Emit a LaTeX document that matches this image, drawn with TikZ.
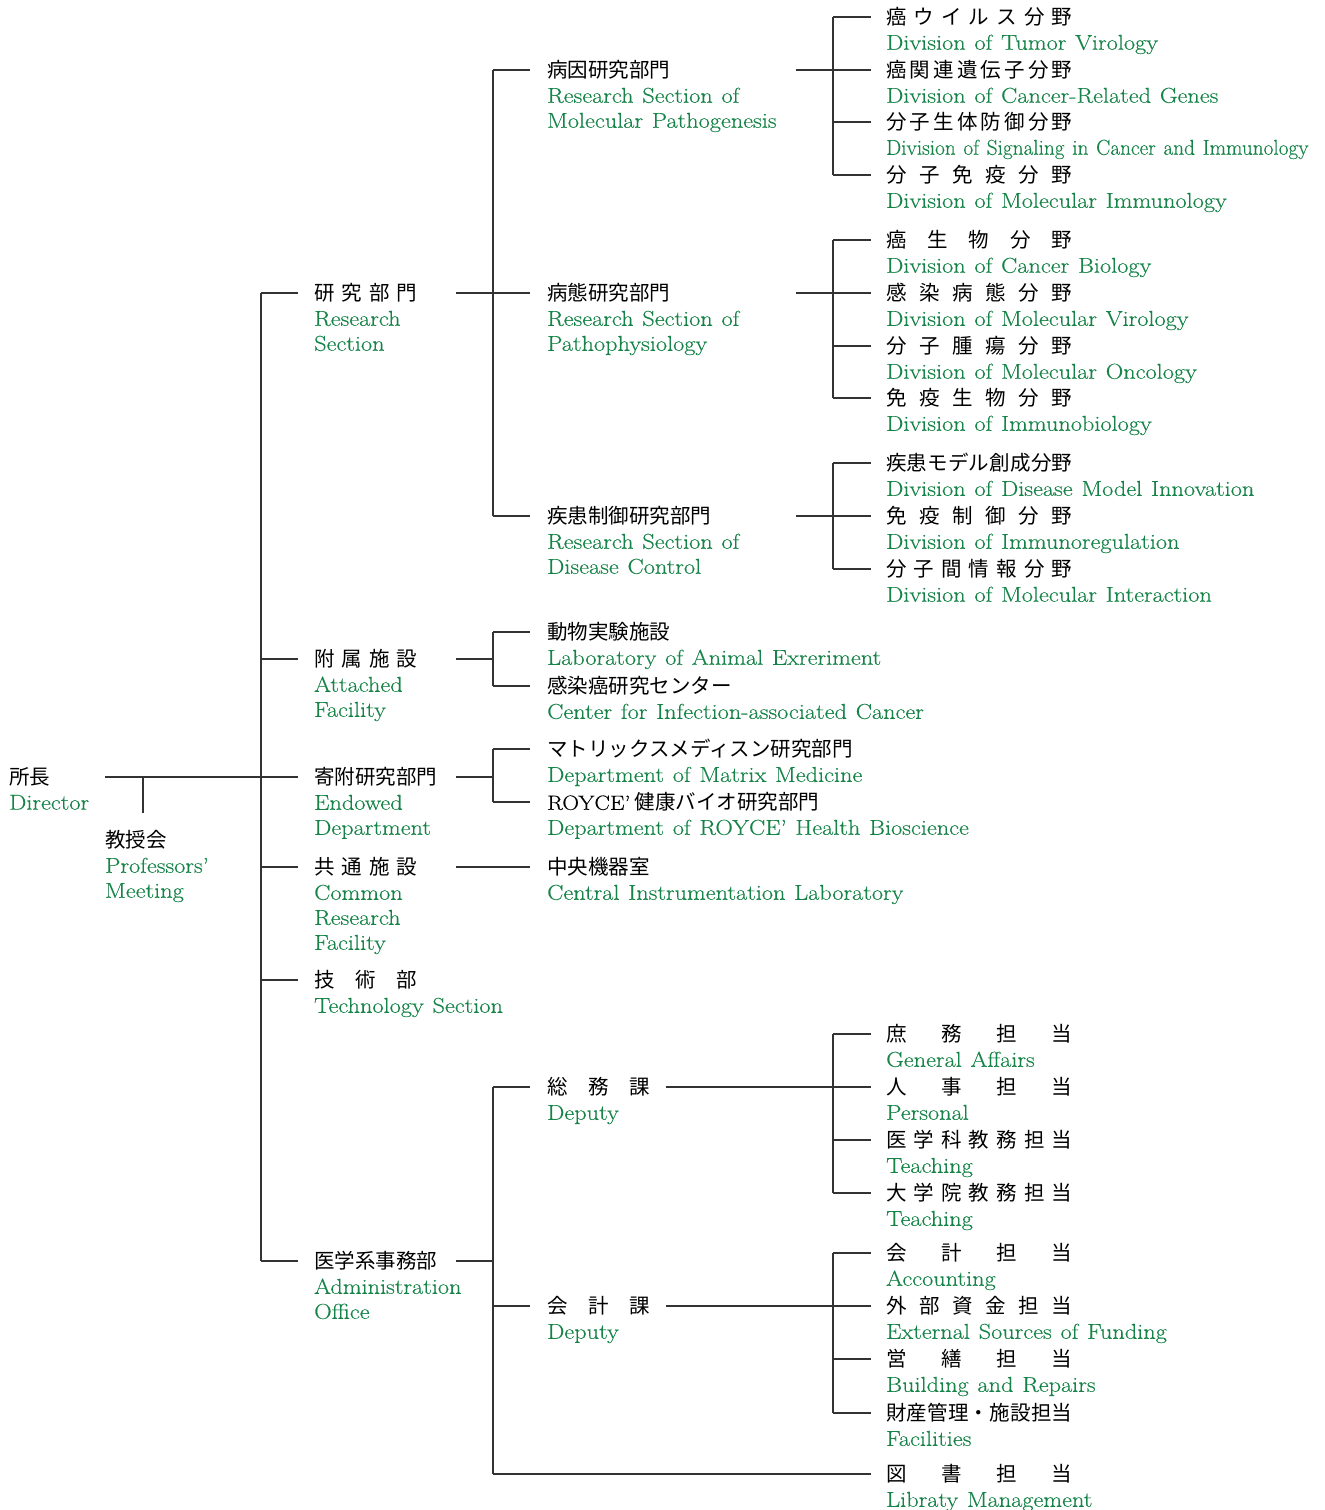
\documentclass[tikz,border=0pt]{standalone}
\usepackage{graphicx}
\usepackage{fontspec}
\setmainfont{Latin Modern Roman}
\newfontfamily\enfont{Latin Modern Roman}[FakeStretch=1.13,WordSpace=1.2,FakeBold=0.3]
\newfontfamily\jpfont{Noto Sans CJK JP}
\definecolor{orggreen}{RGB}{22,132,72}
\newcommand{\jshort}[1]{\makebox[103pt]{#1}}
\newcommand{\jlong}[1]{\makebox[186pt]{#1}}
\newcommand{\enstack}[1]{\begin{tabular}[t]{@{}l@{}}#1\end{tabular}}

\begin{document}
\begin{tikzpicture}[x=1pt,y=-1pt,
  jp/.style={anchor=west,inner sep=0pt,font=\fontsize{20.5}{25}\selectfont\jpfont},
  en/.style={anchor=base west,inner sep=0pt,text=orggreen,font=\fontsize{21.5}{25}\selectfont\enfont},
  ln/.style={line width=1.1pt,draw=black!80}]
\useasboundingbox (0,0) rectangle (1325,1510);

% director and professors' meeting
\node[jp] (dir) at (9,777) {所長};
\node[en] (dir-e) at ([yshift=-25pt]dir.base west) {Director};
\node[jp] (prof) at (105,840) {教授会};
\node[en] (prof-e) at ([yshift=-25pt]prof.base west) {\enstack{Professors’\\Meeting}};

% first level
\node[jp] (rs) at (314,293) {\jshort{研\hfill 究\hfill 部\hfill 門}};
\node[en] (rs-e) at ([yshift=-25pt]rs.base west) {\enstack{Research\\Section}};
\node[jp] (af) at (314,659) {\jshort{附\hfill 属\hfill 施\hfill 設}};
\node[en] (af-e) at ([yshift=-25pt]af.base west) {\enstack{Attached\\Facility}};
\node[jp] (ed) at (314,777) {寄附研究部門};
\node[en] (ed-e) at ([yshift=-25pt]ed.base west) {\enstack{Endowed\\Department}};
\node[jp] (cf) at (314,867) {\jshort{共\hfill 通\hfill 施\hfill 設}};
\node[en] (cf-e) at ([yshift=-25pt]cf.base west) {\enstack{Common\\Research\\Facility}};
\node[jp] (ts) at (314,980) {\jshort{技\hfill 術\hfill 部}};
\node[en] (ts-e) at ([yshift=-25pt]ts.base west) {Technology Section};
\node[jp] (ao) at (314,1261) {医学系事務部};
\node[en] (ao-e) at ([yshift=-25pt]ao.base west) {\enstack{Administration\\Office}};

% second level
\node[jp] (mp) at (547,70) {病因研究部門};
\node[en] (mp-e) at ([yshift=-25pt]mp.base west) {\enstack{Research Section of\\Molecular Pathogenesis}};
\node[jp] (pp) at (547,293) {病態研究部門};
\node[en] (pp-e) at ([yshift=-25pt]pp.base west) {\enstack{Research Section of\\Pathophysiology}};
\node[jp] (dc) at (547,516) {疾患制御研究部門};
\node[en] (dc-e) at ([yshift=-25pt]dc.base west) {\enstack{Research Section of\\Disease Control}};
\node[jp] (la) at (547,632) {動物実験施設};
\node[en] (la-e) at ([yshift=-25pt]la.base west) {Laboratory of Animal Exreriment};
\node[jp] (ic) at (547,686) {感染癌研究センター};
\node[en] (ic-e) at ([yshift=-25pt]ic.base west) {Center for Infection-associated Cancer};
\node[jp] (mm) at (547,749) {マトリックスメディスン研究部門};
\node[en] (mm-e) at ([yshift=-25pt]mm.base west) {Department of Matrix Medicine};
\node[jp] (rh) at (547,802) {{\enfont ROYCE’} 健康バイオ研究部門};
\node[en] (rh-e) at ([yshift=-25pt]rh.base west) {Department of ROYCE’ Health Bioscience};
\node[jp] (ci) at (547,867) {中央機器室};
\node[en] (ci-e) at ([yshift=-25pt]ci.base west) {Central Instrumentation Laboratory};
\node[jp] (gd) at (547,1087) {\jshort{総\hfill 務\hfill 課}};
\node[en] (gd-e) at ([yshift=-25pt]gd.base west) {Deputy};
\node[jp] (ad) at (547,1306) {\jshort{会\hfill 計\hfill 課}};
\node[en] (ad-e) at ([yshift=-25pt]ad.base west) {Deputy};

% third level
\node[jp] (tv) at (886,17) {\jlong{癌\hfill ウ\hfill イ\hfill ル\hfill ス\hfill 分\hfill 野}};
\node[en] (tv-e) at ([yshift=-25pt]tv.base west) {Division of Tumor Virology};
\node[jp] (crg) at (886,70) {\jlong{癌\hfill 関\hfill 連\hfill 遺\hfill 伝\hfill 子\hfill 分\hfill 野}};
\node[en] (crg-e) at ([yshift=-25pt]crg.base west) {Division of Cancer-Related Genes};
\node[jp] (sci) at (886,122) {\jlong{分\hfill 子\hfill 生\hfill 体\hfill 防\hfill 御\hfill 分\hfill 野}};
\node[en] (sci-e) at ([yshift=-25pt]sci.base west) {\scalebox{0.875}[1]{Division of Signaling in Cancer and Immunology}};
\node[jp] (mi) at (886,175) {\jlong{分\hfill 子\hfill 免\hfill 疫\hfill 分\hfill 野}};
\node[en] (mi-e) at ([yshift=-25pt]mi.base west) {Division of Molecular Immunology};
\node[jp] (cb) at (886,240) {\jlong{癌\hfill 生\hfill 物\hfill 分\hfill 野}};
\node[en] (cb-e) at ([yshift=-25pt]cb.base west) {Division of Cancer Biology};
\node[jp] (mv) at (886,293) {\jlong{感\hfill 染\hfill 病\hfill 態\hfill 分\hfill 野}};
\node[en] (mv-e) at ([yshift=-25pt]mv.base west) {Division of Molecular Virology};
\node[jp] (mo) at (886,346) {\jlong{分\hfill 子\hfill 腫\hfill 瘍\hfill 分\hfill 野}};
\node[en] (mo-e) at ([yshift=-25pt]mo.base west) {Division of Molecular Oncology};
\node[jp] (ib) at (886,398) {\jlong{免\hfill 疫\hfill 生\hfill 物\hfill 分\hfill 野}};
\node[en] (ib-e) at ([yshift=-25pt]ib.base west) {Division of Immunobiology};
\node[jp] (dmi) at (886,463) {\jlong{疾\hfill 患\hfill モ\hfill デ\hfill ル\hfill 創\hfill 成\hfill 分\hfill 野}};
\node[en] (dmi-e) at ([yshift=-25pt]dmi.base west) {Division of Disease Model Innovation};
\node[jp] (ir) at (886,516) {\jlong{免\hfill 疫\hfill 制\hfill 御\hfill 分\hfill 野}};
\node[en] (ir-e) at ([yshift=-25pt]ir.base west) {Division of Immunoregulation};
\node[jp] (mint) at (886,569) {\jlong{分\hfill 子\hfill 間\hfill 情\hfill 報\hfill 分\hfill 野}};
\node[en] (mint-e) at ([yshift=-25pt]mint.base west) {Division of Molecular Interaction};
\node[jp] (ga) at (886,1034) {\jlong{庶\hfill 務\hfill 担\hfill 当}};
\node[en] (ga-e) at ([yshift=-25pt]ga.base west) {General Affairs};
\node[jp] (pe) at (886,1087) {\jlong{人\hfill 事\hfill 担\hfill 当}};
\node[en] (pe-e) at ([yshift=-25pt]pe.base west) {Personal};
\node[jp] (tu) at (886,1140) {\jlong{医\hfill 学\hfill 科\hfill 教\hfill 務\hfill 担\hfill 当}};
\node[en] (tu-e) at ([yshift=-25pt]tu.base west) {Teaching};
\node[jp] (tg) at (886,1193) {\jlong{大\hfill 学\hfill 院\hfill 教\hfill 務\hfill 担\hfill 当}};
\node[en] (tg-e) at ([yshift=-25pt]tg.base west) {Teaching};
\node[jp] (ac) at (886,1253) {\jlong{会\hfill 計\hfill 担\hfill 当}};
\node[en] (ac-e) at ([yshift=-25pt]ac.base west) {Accounting};
\node[jp] (ef) at (886,1306) {\jlong{外\hfill 部\hfill 資\hfill 金\hfill 担\hfill 当}};
\node[en] (ef-e) at ([yshift=-25pt]ef.base west) {External Sources of Funding};
\node[jp] (br) at (886,1359) {\jlong{営\hfill 繕\hfill 担\hfill 当}};
\node[en] (br-e) at ([yshift=-25pt]br.base west) {Building and Repairs};
\node[jp] (fa) at (886,1413) {\jlong{財\hfill 産\hfill 管\hfill 理\hfill ・\hfill 施\hfill 設\hfill 担\hfill 当}};
\node[en] (fa-e) at ([yshift=-25pt]fa.base west) {Facilities};
\node[jp] (lib) at (886,1474) {\jlong{図\hfill 書\hfill 担\hfill 当}};
\node[en] (lib-e) at ([yshift=-25pt]lib.base west) {Libraty Management};

% trunks
\coordinate (t1) at (261,0);
\coordinate (b1) at (456,0);
\coordinate (t2) at (493,0);
\coordinate (b2) at (796,0);
\coordinate (t3) at (833,0);
\coordinate (d0) at (105,777);
\coordinate (pm) at (143,777);

\draw[ln] (d0) -- ([xshift=-16pt]ed.west);
\draw[ln] (pm) -- ++(0,36);
\draw[ln] (t1 |- rs.west) -- (t1 |- ao.west);
\foreach \n in {rs,af,cf,ts,ao} \draw[ln] (t1 |- \n.west) -- ([xshift=-16pt]\n.west);

% first -> second level
\draw[ln] (b1 |- rs.west) -- (t2 |- rs.west);
\draw[ln] (t2 |- mp.west) -- (t2 |- dc.west);
\draw[ln] (b1 |- af.west) -- (t2 |- af.west);
\draw[ln] (t2 |- la.west) -- (t2 |- ic.west);
\draw[ln] (b1 |- ed.west) -- (t2 |- ed.west);
\draw[ln] (t2 |- mm.west) -- (t2 |- rh.west);
\draw[ln] (b1 |- cf.west) -- ([xshift=-17pt]ci.west);
\draw[ln] (b1 |- ao.west) -- (t2 |- ao.west);
\draw[ln] (t2 |- gd.west) -- (t2 |- lib.west);
\foreach \n in {mp,pp,dc,la,ic,mm,rh,gd,ad} \draw[ln] (t2 |- \n.west) -- ([xshift=-17pt]\n.west);
\draw[ln] (t2 |- lib.west) -- ([xshift=-15pt]lib.west);

% second -> third level
\draw[ln] (b2 |- mp.west) -- (t3 |- mp.west);
\draw[ln] (t3 |- tv.west) -- (t3 |- mi.west);
\draw[ln] (b2 |- pp.west) -- (t3 |- pp.west);
\draw[ln] (t3 |- cb.west) -- (t3 |- ib.west);
\draw[ln] (b2 |- dc.west) -- (t3 |- dc.west);
\draw[ln] (t3 |- dmi.west) -- (t3 |- mint.west);
\draw[ln] ([xshift=16pt]gd.east) -- (t3 |- gd.west);
\draw[ln] (t3 |- ga.west) -- (t3 |- tg.west);
\draw[ln] ([xshift=16pt]ad.east) -- (t3 |- ad.west);
\draw[ln] (t3 |- ac.west) -- (t3 |- fa.west);
\foreach \n in {tv,crg,sci,mi,cb,mv,mo,ib,dmi,ir,mint,ga,pe,tu,tg,ac,ef,br,fa} \draw[ln] (t3 |- \n.west) -- ([xshift=-15pt]\n.west);
\end{tikzpicture}
\end{document}
